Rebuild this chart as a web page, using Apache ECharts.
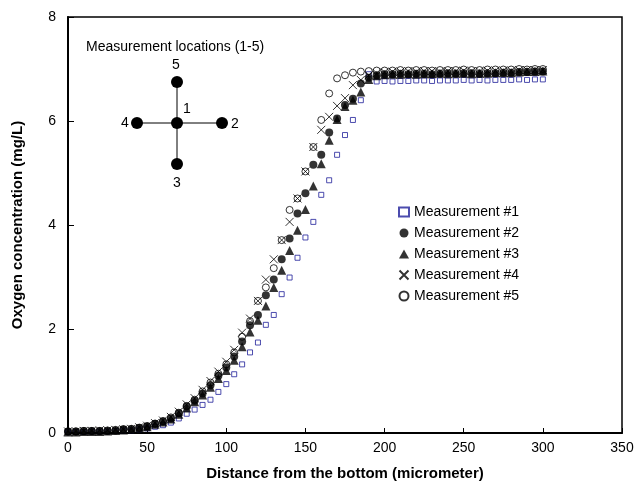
<!DOCTYPE html>
<html>
<head>
<meta charset="utf-8">
<script src="https://cdn.jsdelivr.net/npm/echarts@6/dist/echarts.min.js"></script>
<style>
  html, body { margin: 0; padding: 0; background: #fff; }
  #chart { width: 637px; height: 487px; }
</style>
</head>
<body>
<div id="chart"></div>
<script>
// distance from the bottom (micrometer)
var distance = [0, 5, 10, 15, 20, 25, 30, 35, 40, 45, 50, 55, 60, 65, 70, 75, 80, 85, 90, 95,
    100, 105, 110, 115, 120, 125, 130, 135, 140, 145, 150, 155, 160, 165, 170, 175, 180, 185, 190, 195,
    200, 205, 210, 215, 220, 225, 230, 235, 240, 245, 250, 255, 260, 265, 270, 275, 280, 285, 290, 295, 300];

// oxygen concentration (mg/L)
var meas1 = [0.02, 0.02, 0.02, 0.03, 0.03, 0.03, 0.04, 0.05, 0.05, 0.07, 0.09, 0.12, 0.15, 0.2, 0.28, 0.37, 0.45, 0.54, 0.64, 0.79,
    0.94, 1.13, 1.32, 1.55, 1.74, 2.08, 2.27, 2.67, 2.99, 3.37, 3.76, 4.06, 4.58, 4.86, 5.35, 5.73, 6.02, 6.4, 6.9, 6.76,
    6.77, 6.76, 6.77, 6.77, 6.78, 6.78, 6.77, 6.78, 6.78, 6.78, 6.79, 6.78, 6.79, 6.78, 6.79, 6.79, 6.79, 6.8, 6.79, 6.8, 6.8];
var meas2 = [0.03, 0.03, 0.04, 0.04, 0.04, 0.04, 0.05, 0.07, 0.07, 0.1, 0.13, 0.18, 0.22, 0.28, 0.38, 0.51, 0.62, 0.76, 0.92, 1.1,
    1.26, 1.47, 1.76, 2.07, 2.27, 2.65, 2.95, 3.34, 3.74, 4.22, 4.61, 5.16, 5.35, 5.78, 6.05, 6.31, 6.43, 6.72, 6.83, 6.88,
    6.9, 6.9, 6.91, 6.9, 6.91, 6.91, 6.9, 6.91, 6.92, 6.91, 6.92, 6.92, 6.91, 6.92, 6.92, 6.93, 6.93, 6.94, 6.94, 6.95, 6.95];
var meas3 = [0.02, 0.02, 0.03, 0.03, 0.03, 0.04, 0.05, 0.06, 0.07, 0.09, 0.12, 0.17, 0.21, 0.27, 0.36, 0.48, 0.6, 0.73, 0.88, 1.05,
    1.2, 1.4, 1.66, 1.94, 2.17, 2.44, 2.8, 3.13, 3.51, 3.9, 4.3, 4.75, 5.18, 5.63, 6.03, 6.28, 6.4, 6.56, 6.8, 6.87,
    6.89, 6.9, 6.9, 6.91, 6.9, 6.91, 6.91, 6.92, 6.91, 6.92, 6.92, 6.91, 6.92, 6.92, 6.93, 6.93, 6.93, 6.94, 6.95, 6.95, 6.96];
var meas4 = [0.03, 0.03, 0.04, 0.04, 0.05, 0.05, 0.06, 0.07, 0.08, 0.11, 0.14, 0.19, 0.24, 0.31, 0.41, 0.55, 0.67, 0.83, 1.0, 1.18,
    1.37, 1.6, 1.93, 2.2, 2.54, 2.95, 3.34, 3.71, 4.06, 4.51, 5.03, 5.5, 5.83, 6.08, 6.29, 6.44, 6.69, 6.79, 6.88, 6.92,
    6.94, 6.95, 6.95, 6.96, 6.95, 6.96, 6.96, 6.95, 6.96, 6.96, 6.97, 6.96, 6.96, 6.97, 6.97, 6.97, 6.97, 6.98, 6.98, 6.98, 6.98];
var meas5 = [0.03, 0.03, 0.04, 0.04, 0.04, 0.05, 0.06, 0.07, 0.08, 0.1, 0.13, 0.18, 0.23, 0.3, 0.39, 0.52, 0.64, 0.8, 0.97, 1.14,
    1.32, 1.55, 1.85, 2.15, 2.54, 2.8, 3.17, 3.71, 4.29, 4.51, 5.03, 5.5, 6.02, 6.53, 6.82, 6.88, 6.93, 6.95, 6.96, 6.97,
    6.97, 6.97, 6.98, 6.97, 6.98, 6.98, 6.97, 6.98, 6.98, 6.98, 6.99, 6.98, 6.98, 6.99, 6.99, 6.99, 6.99, 7.0, 6.99, 7.0, 7.0];

var seriesNames = ['Measurement #1', 'Measurement #2', 'Measurement #3', 'Measurement #4', 'Measurement #5'];

// location sketch labels
var locLabels = ['1', '2', '3', '4', '5'];

var font = 'Arial, "Liberation Sans", sans-serif';

function pairs(ys) {
    return distance.map(function (d, i) { return [d, ys[i]]; });
}

function label(txt, x, y) {
    return {
        type: 'text', x: x, y: y,
        style: { text: txt, font: '14px ' + font, fill: '#000', align: 'center', verticalAlign: 'middle' }
    };
}

var chart = echarts.init(document.getElementById('chart'));

var crossPath = 'path://M0,0L10,10M10,0L0,10';

var option = {
    animation: false,
    textStyle: { fontFamily: font },
    grid: {
        left: 68, top: 17, right: 15, bottom: 54,
        show: true, borderColor: '#000', borderWidth: 1.5
    },
    legend: {
        orient: 'vertical',
        left: 392, top: 200,
        itemGap: 7,
        itemWidth: 10, itemHeight: 9,
        textStyle: { fontSize: 14, color: '#000', fontFamily: font },
        data: seriesNames
    },
    xAxis: {
        type: 'value',
        min: 0, max: 350, interval: 50,
        name: 'Distance from the bottom (micrometer)',
        nameLocation: 'middle', nameGap: 33,
        nameTextStyle: { fontSize: 15, fontWeight: 'bold', color: '#000', fontFamily: font },
        axisLine: { lineStyle: { color: '#000', width: 2 } },
        axisTick: { inside: true, length: 5, lineStyle: { color: '#000' } },
        axisLabel: { fontSize: 14, color: '#000', margin: 8 },
        splitLine: { show: false }
    },
    yAxis: {
        type: 'value',
        min: 0, max: 8, interval: 2,
        name: 'Oxygen concentration (mg/L)',
        nameLocation: 'middle', nameGap: 43,
        nameTextStyle: { fontSize: 15, fontWeight: 'bold', color: '#000', fontFamily: font },
        axisLine: { show: true, lineStyle: { color: '#000', width: 2 } },
        axisTick: { show: true, inside: true, length: 6, lineStyle: { color: '#000' } },
        axisLabel: { fontSize: 14, color: '#000', margin: 12 },
        splitLine: { show: false }
    },
    series: [
        {
            name: seriesNames[0], type: 'scatter', data: pairs(meas1),
            symbol: 'rect', symbolSize: 5,
            itemStyle: { color: '#fff', borderColor: '#1f1f9a', borderWidth: 1 }
        },
        {
            name: seriesNames[1], type: 'scatter', data: pairs(meas2),
            symbol: 'circle', symbolSize: 8,
            itemStyle: { color: '#000' }
        },
        {
            name: seriesNames[2], type: 'scatter', data: pairs(meas3),
            symbol: 'triangle', symbolSize: 9,
            itemStyle: { color: '#000' }
        },
        {
            name: seriesNames[3], type: 'scatter', data: pairs(meas4),
            symbol: crossPath, symbolSize: 8,
            itemStyle: { color: 'none', borderColor: '#000', borderWidth: 1 }
        },
        {
            name: seriesNames[4], type: 'scatter', data: pairs(meas5),
            symbol: 'circle', symbolSize: 7,
            itemStyle: { color: 'rgba(0,0,0,0)', borderColor: '#000', borderWidth: 1 }
        }
    ],
    graphic: [
        {
            type: 'text', x: 86, y: 47,
            style: { text: 'Measurement locations (1-5)', font: '14px ' + font, fill: '#000', verticalAlign: 'middle' }
        },
        { type: 'line', shape: { x1: 137, y1: 123, x2: 222, y2: 123 }, style: { stroke: '#000', lineWidth: 1 } },
        { type: 'line', shape: { x1: 177, y1: 82, x2: 177, y2: 164 }, style: { stroke: '#000', lineWidth: 1 } },
        { type: 'circle', shape: { cx: 177, cy: 123, r: 6 }, style: { fill: '#000' } },
        { type: 'circle', shape: { cx: 222, cy: 123, r: 6 }, style: { fill: '#000' } },
        { type: 'circle', shape: { cx: 177, cy: 164, r: 6 }, style: { fill: '#000' } },
        { type: 'circle', shape: { cx: 137, cy: 123, r: 6 }, style: { fill: '#000' } },
        { type: 'circle', shape: { cx: 177, cy: 82, r: 6 }, style: { fill: '#000' } },
        label(locLabels[0], 187, 109),
        label(locLabels[1], 235, 124),
        label(locLabels[2], 177, 183),
        label(locLabels[3], 125, 123),
        label(locLabels[4], 176, 65)
    ]
};

chart.setOption(option);
</script>
</body>
</html>
